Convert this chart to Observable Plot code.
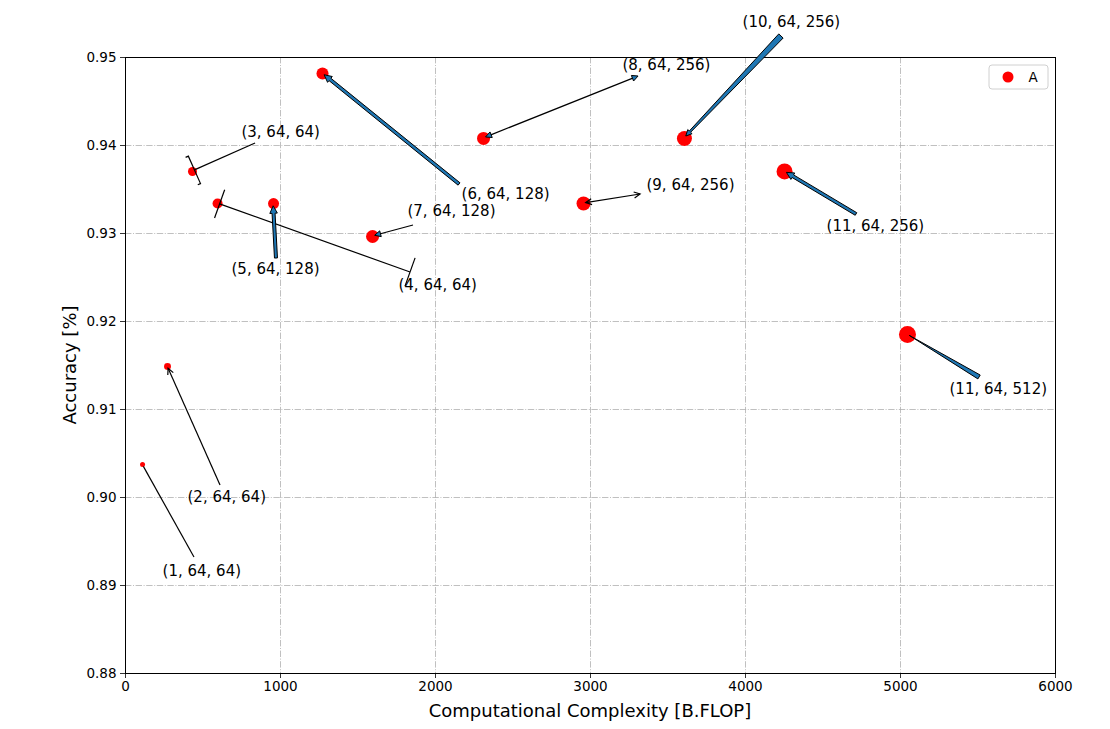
<!DOCTYPE html>
<html><head><meta charset="utf-8">
<script src="https://cdn.jsdelivr.net/npm/d3@7"></script>
<script src="https://cdn.jsdelivr.net/npm/@observablehq/plot@0.6"></script>
<style>body{margin:0;background:#fff;} svg{font-family:"DejaVu Sans";}</style>
</head><body><div id="chart"></div>
<script>
// ---- data ----
const labels = ["(1, 64, 64)", "(2, 64, 64)", "(3, 64, 64)", "(4, 64, 64)", "(5, 64, 128)", "(6, 64, 128)",
  "(7, 64, 128)", "(8, 64, 256)", "(9, 64, 256)", "(10, 64, 256)", "(11, 64, 256)", "(11, 64, 512)"];
const complexity = [110, 271, 432, 594, 955, 1271, 1594, 2310, 2955, 3606, 4252, 5045];
const accuracy = [0.90375, 0.9149, 0.93705, 0.93341, 0.9334, 0.94818, 0.92966, 0.9408, 0.9334, 0.9408, 0.93705, 0.91852];
const markerSize = [13, 25, 42, 52, 63, 75, 88, 88, 102, 117, 133, 150];
const labelX = [239, 400, 748, 1761, 684, 2168, 1819, 3206, 3361, 3981, 4523, 5316];
const labelY = [0.8916, 0.9000, 0.94148, 0.92409, 0.92591, 0.93443, 0.93250, 0.94909, 0.93545, 0.95398, 0.93080, 0.91227];
const tailX = [445, 613, 839, 1839, 974, 2155, 1858, 3310, 3323, 4232, 4716, 5510];
const tailY = [0.89318, 0.90136, 0.94023, 0.92557, 0.92716, 0.93557, 0.93091, 0.94784, 0.93443, 0.95239, 0.93216, 0.91364];
const arrowStyles = ["-", "->", "-[", "|-|", "simple", "simple", "-|>", "<|-|>", "<->", "fancy", "simple", "wedge"];
const xTicks = [0, 1000, 2000, 3000, 4000, 5000, 6000];
const yTicks = [0.88, 0.89, 0.90, 0.91, 0.92, 0.93, 0.94, 0.95];
const seriesName = "A";

const data = labels.map((label, i) => ({
  label, x: complexity[i], y: accuracy[i], s: markerSize[i],
  lx: labelX[i], ly: labelY[i], tx: tailX[i], ty: tailY[i], style: arrowStyles[i]
}));

const W = 1110, H = 729, ML = 125, MR = 55, MT = 57, MB = 56;
const gridStyle = {stroke: "#b0b0b0", strokeOpacity: 1, strokeWidth: 0.8, strokeDasharray: "6.4,1.6,1,1.6"};

const chart = Plot.plot({
  width: W, height: H,
  marginLeft: ML, marginRight: MR, marginTop: MT, marginBottom: MB,
  style: {fontFamily: "DejaVu Sans", fontSize: "13.5px", color: "#000", background: "#fff", overflow: "visible"},
  x: {domain: [0, 6000]},
  y: {domain: [0.88, 0.95]},
  r: {type: "sqrt", domain: [0, 144], range: [0, 8.33]},
  marks: [
    Plot.gridX(xTicks, gridStyle),
    Plot.gridY(yTicks, gridStyle),
    Plot.dot(data, {x: "x", y: "y", r: "s", fill: "#ff0000", stroke: null}),
    Plot.frame({stroke: "#000", strokeWidth: 1}),
    Plot.axisX(xTicks, {tickSize: 5, tickPadding: 3, tickFormat: d => String(d), label: null, fontSize: 13.5, stroke: "#000", strokeWidth: 0.8}),
    Plot.axisY(yTicks, {tickSize: 5, tickPadding: 4, tickFormat: d => d.toFixed(2), label: null, fontSize: 13.5, stroke: "#000", strokeWidth: 0.8}),
    Plot.text(data, {x: "lx", y: "ly", text: "label", textAnchor: "start", lineAnchor: "middle", fontSize: 15, fill: "#000"})
  ]
});

// ---- annotation arrows drawn via Plot's scales ----
const sx = chart.scale("x").apply, sy = chart.scale("y").apply;
const svg = d3.select(chart);
const ns = "http://www.w3.org/2000/svg";
const gArrows = document.createElementNS(ns, "g");
const textG = chart.querySelector('g[aria-label="text"]');
if (textG) textG.parentNode.insertBefore(gArrows, textG); else chart.appendChild(gArrows);
const ga = d3.select(gArrows);
const C0 = "#1f77b4";
const MS = 15;
const P = (x, y) => `${x.toFixed(2)},${y.toFixed(2)}`;

for (const d of data) {
  const x0 = sx(d.tx), y0 = sy(d.ty);
  let x1 = sx(d.x), y1 = sy(d.y);
  let dx = x1 - x0, dy = y1 - y0;
  const L = Math.hypot(dx, dy);
  const ux = dx / L, uy = dy / L, px = -uy, py = ux;
  const shrink = 2.7;
  x1 -= ux * shrink; y1 -= uy * shrink;
  const line = (a, b, c, e) => ga.append("path").attr("d", `M${P(a, b)}L${P(c, e)}`).attr("stroke", "#000").attr("stroke-width", 1.2).attr("fill", "none");
  const openHead = (tx, ty, vx, vy) => { // tip, direction into tip
    const hl = 0.4 * MS, hw = 0.2 * MS, qx = -vy, qy = vx;
    ga.append("path").attr("d", `M${P(tx - vx * hl + qx * hw, ty - vy * hl + qy * hw)}L${P(tx, ty)}L${P(tx - vx * hl - qx * hw, ty - vy * hl - qy * hw)}`)
      .attr("stroke", "#000").attr("stroke-width", 1.2).attr("fill", "none");
  };
  const filledHead = (tx, ty, vx, vy) => {
    const hl = 0.4 * MS, hw = 0.2 * MS, qx = -vy, qy = vx;
    ga.append("path").attr("d", `M${P(tx - vx * hl + qx * hw, ty - vy * hl + qy * hw)}L${P(tx, ty)}L${P(tx - vx * hl - qx * hw, ty - vy * hl - qy * hw)}Z`)
      .attr("stroke", "#000").attr("stroke-width", 1).attr("fill", C0);
  };
  const poly = pts => ga.append("path").attr("d", "M" + pts.map(p => P(p[0], p[1])).join("L") + "Z")
    .attr("fill", C0).attr("stroke", "#000").attr("stroke-width", 1).attr("stroke-linejoin", "miter");
  switch (d.style) {
    case "-": line(x0, y0, x1, y1); break;
    case "->": line(x0, y0, x1, y1); openHead(x1, y1, ux, uy); break;
    case "<->": line(x0, y0, x1, y1); openHead(x1, y1, ux, uy); openHead(x0, y0, -ux, -uy); break;
    case "-|>": line(x0, y0, x1 - ux * 5, y1 - uy * 5); filledHead(x1, y1, ux, uy); break;
    case "<|-|>": line(x0 + ux * 5, y0 + uy * 5, x1 - ux * 5, y1 - uy * 5); filledHead(x1, y1, ux, uy); filledHead(x0, y0, -ux, -uy); break;
    case "-[": {
      line(x0, y0, x1, y1);
      const B = 1.0 * MS, l = 0.2 * MS;
      ga.append("path").attr("d", `M${P(x1 + px * B + ux * l, y1 + py * B + uy * l)}L${P(x1 + px * B, y1 + py * B)}L${P(x1 - px * B, y1 - py * B)}L${P(x1 - px * B + ux * l, y1 - py * B + uy * l)}`)
        .attr("stroke", "#000").attr("stroke-width", 1.2).attr("fill", "none");
      break;
    }
    case "|-|": {
      line(x0, y0, x1, y1);
      const B = 1.0 * MS;
      line(x1 + px * B, y1 + py * B, x1 - px * B, y1 - py * B);
      line(x0 + px * B, y0 + py * B, x0 - px * B, y0 - py * B);
      break;
    }
    case "simple": {
      const hl = 0.5 * MS, hw = 0.25 * MS, tw = 0.1 * MS;
      const bx = x1 - ux * hl, by = y1 - uy * hl;
      poly([[x0 + px * tw, y0 + py * tw], [bx + px * tw, by + py * tw], [bx + px * hw, by + py * hw], [x1, y1],
            [bx - px * hw, by - py * hw], [bx - px * tw, by - py * tw], [x0 - px * tw, y0 - py * tw]]);
      break;
    }
    case "fancy": {
      const hl = 0.4 * MS, hw = 0.2 * MS, tw = 0.2 * MS;
      const bx = x1 - ux * hl, by = y1 - uy * hl;
      poly([[x0 + px * tw, y0 + py * tw], [bx + px * tw * 0.3, by + py * tw * 0.3], [bx + px * hw, by + py * hw], [x1, y1],
            [bx - px * hw, by - py * hw], [bx - px * tw * 0.3, by - py * tw * 0.3], [x0 - px * tw, y0 - py * tw]]);
      break;
    }
    case "wedge": {
      const tw = 0.15 * MS;
      poly([[x0 + px * tw, y0 + py * tw], [x1, y1], [x0 - px * tw, y0 - py * tw]]);
      break;
    }
  }
}

// ---- axis titles ----
svg.append("text").attr("x", ML + (W - ML - MR) / 2).attr("y", 710).attr("text-anchor", "middle")
  .attr("dominant-baseline", "central").attr("font-size", 18).attr("fill", "#000").text("Computational Complexity [B.FLOP]");
svg.append("text").attr("transform", `translate(69,${MT + (H - MT - MB) / 2}) rotate(-90)`).attr("text-anchor", "middle")
  .attr("dominant-baseline", "central").attr("font-size", 18).attr("fill", "#000").text("Accuracy [%]");

// ---- legend ----
const lg = svg.append("g");
const lx = W - MR - 66, ly = MT + 8;
lg.append("rect").attr("x", lx).attr("y", ly).attr("width", 59).attr("height", 24).attr("rx", 3)
  .attr("fill", "#fff").attr("fill-opacity", 0.8).attr("stroke", "#d0d0d0").attr("stroke-width", 1);
lg.append("circle").attr("cx", lx + 19).attr("cy", ly + 12).attr("r", 5.5).attr("fill", "#ff0000");
lg.append("text").attr("x", lx + 44).attr("y", ly + 12).attr("dominant-baseline", "central").attr("font-size", 13.5)
  .attr("fill", "#000").text(seriesName);

document.getElementById("chart").appendChild(chart);
</script>
</body></html>
